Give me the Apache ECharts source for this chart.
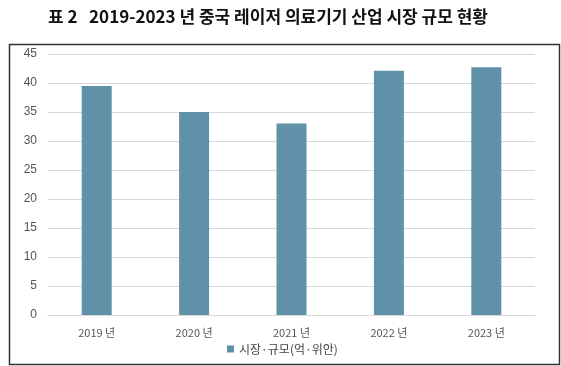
<!DOCTYPE html>
<html>
<head>
<meta charset="utf-8">
<script src="https://cdn.jsdelivr.net/npm/echarts@6/dist/echarts.min.js"></script>
<style>html,body{margin:0;padding:0;background:#fff}#c{width:561px;height:366px}</style>
</head>
<body>
<div id="c"></div>
<script>
var titleText = '표 2   2019-2023 년 중국 레이저 의료기기 산업 시장 규모 현황';
var categories = ['2019 년', '2020 년', '2021 년', '2022 년', '2023 년'];
var seriesName = '시장·규모(억·위안)';
var marketSize = [39.5, 35.0, 33.0, 42.1, 42.7];
var yMin = 0, yMax = 45, yStep = 5;

var chart = echarts.init(document.getElementById('c'), null, {renderer: 'canvas'});
chart.setOption({
  animation: false,
  backgroundColor: '#fff',
  title: {
    text: titleText,
    left: 263, top: 3, textAlign: 'center',
    textStyle: {fontFamily: 'Noto Sans CJK KR', fontWeight: 'bold', fontSize: 17, color: '#111'}
  },
  graphic: [{
    type: 'rect', left: 7, top: 42,
    shape: {width: 550, height: 320},
    style: {fill: 'none', stroke: '#333', lineWidth: 1.5}
  }],
  grid: {left: 48, right: 26, top: 54, bottom: 51},
  legend: {
    data: [seriesName], bottom: 6, left: 222,
    icon: 'rect', itemWidth: 7, itemHeight: 7, itemGap: 4,
    textStyle: {fontFamily: 'Noto Sans CJK KR', fontSize: 12, color: '#444'}
  },
  xAxis: {
    type: 'category', data: categories,
    axisLine: {lineStyle: {color: '#d9d9d9'}},
    axisTick: {show: false},
    axisLabel: {fontFamily: 'Noto Sans CJK KR', fontSize: 11, color: '#555', margin: 12}
  },
  yAxis: {
    type: 'value', min: yMin, max: yMax, interval: yStep,
    axisLine: {show: false}, axisTick: {show: false},
    splitLine: {lineStyle: {color: '#d9d9d9'}},
    axisLabel: {fontFamily: 'Liberation Sans', fontSize: 12, color: '#555', margin: 11}
  },
  series: [{
    name: seriesName, type: 'bar', data: marketSize, barWidth: 30,
    itemStyle: {color: '#5f92a9'}
  }]
});
</script>
</body>
</html>
